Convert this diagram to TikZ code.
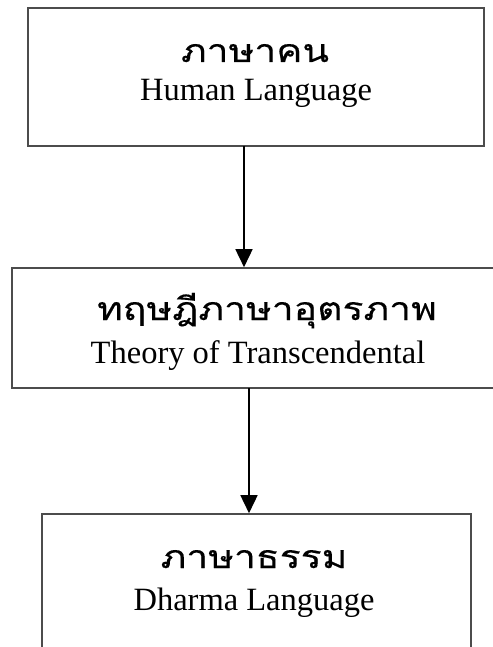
\documentclass[tikz,border=0pt]{standalone}
\usepackage{fontspec}
\setmainfont{Liberation Serif}
\newfontfamily\thaifont[Script=Thai,FakeStretch=1.22,FakeBold=0.3]{Loma}
\usetikzlibrary{arrows.meta}
\begin{document}
\begin{tikzpicture}[x=1pt,y=-1pt,
  boxshape/.style={draw=black!70,line width=1.6pt,rectangle,inner sep=0pt},
  thaitext/.style={anchor=base,font=\thaifont\fontsize{32}{36}\selectfont,inner sep=0pt},
  engtext/.style={anchor=base,font=\fontsize{32.5}{36}\selectfont,inner sep=0pt},
  flow/.style={draw=black,line width=1.6pt,-{Triangle[width=17pt,length=18pt]}}]
\useasboundingbox (0,0) rectangle (492,647);
% boxes
\node[boxshape,minimum width=456pt,minimum height=138pt] (b1) at (256,77) {};
\node[boxshape,minimum width=492pt,minimum height=120pt] (b2) at (258,328) {};
\node[boxshape,minimum width=429pt,minimum height=180pt] (b3) at (256.5,604) {};
% texts
\node[thaitext] (t1) at (255,62) {ภาษาคน};
\node[engtext] (e1) at (256,101) {Human Language};
\node[thaitext] (t2) at (267,320) {ทฤษฎีภาษาอุตรภาพ};
\node[engtext] (e2) at (258,363) {Theory of Transcendental};
\node[thaitext] (t3) at (254,568) {ภาษาธรรม};
\node[engtext] (e3) at (254,610) {Dharma Language};
% connectors
\coordinate (a1s) at (244,146);
\coordinate (a2s) at (249,388);
\draw[flow] (a1s) -- (a1s |- b2.north);
\draw[flow] (a2s) -- (a2s |- b3.north);
\end{tikzpicture}
\end{document}
